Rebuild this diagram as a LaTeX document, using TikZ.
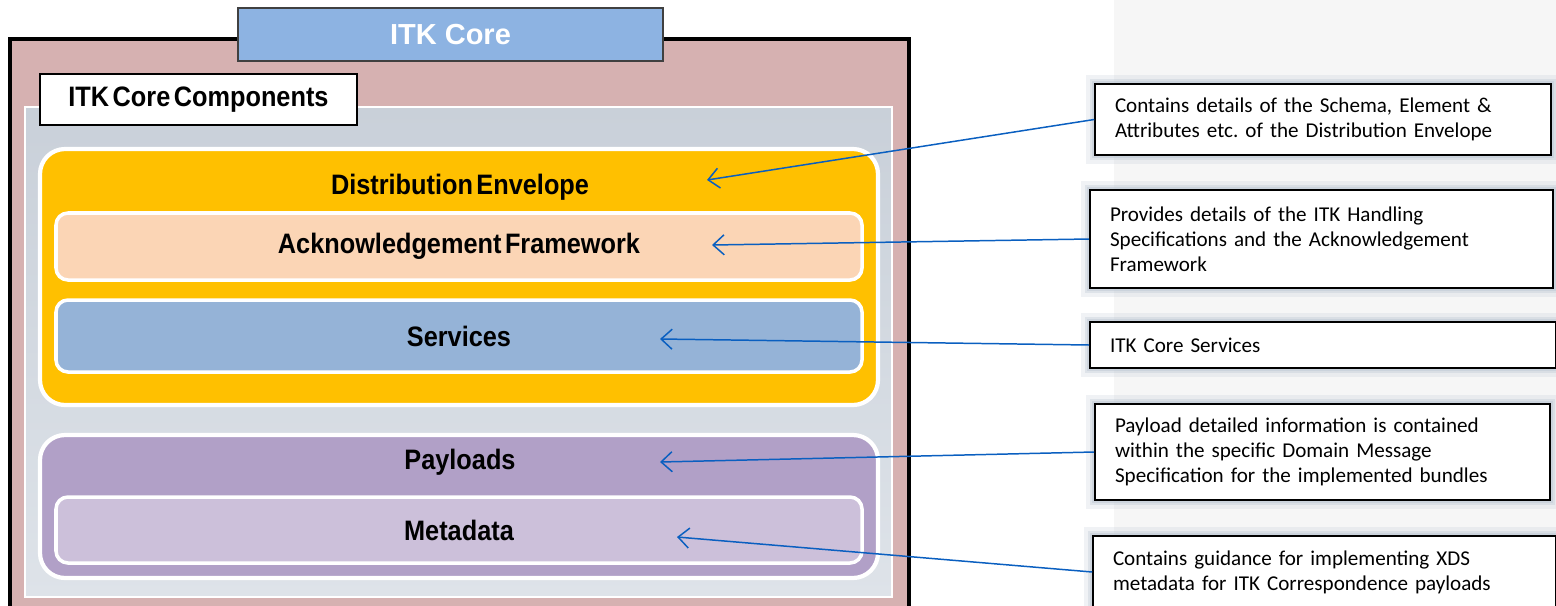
\documentclass[tikz,border=0pt]{standalone}
\usepackage{fontspec}
\setmainfont{Carlito}
\newfontfamily\labelfont{Liberation Sans}[FakeStretch=0.9,WordSpace=0.5]
\newfontfamily\tabfont{Liberation Sans}
\usetikzlibrary{arrows.meta,positioning}
\frenchspacing

\definecolor{corepink}{HTML}{D6B1B1}
\definecolor{tabblue}{HTML}{8DB3E2}
\definecolor{paneltop}{HTML}{C9D0D9}
\definecolor{panelbottom}{HTML}{DEE3E9}
\definecolor{envorange}{HTML}{FFC000}
\definecolor{ackpeach}{HTML}{FBD5B5}
\definecolor{servblue}{HTML}{95B3D7}
\definecolor{payviolet}{HTML}{B1A0C7}
\definecolor{metalilac}{HTML}{CCC0DA}
\definecolor{linkblue}{HTML}{0A5FC0}
\definecolor{glow}{HTML}{C3CCD7}
\definecolor{sidegray}{HTML}{F6F6F6}

\begin{document}
\begin{tikzpicture}
	[ x=0.2mm, y=-0.2mm,
		title/.style={font=\labelfont\bfseries\fontsize{16}{19}\selectfont,inner sep=0pt},
		group/.style={rectangle,rounded corners=5mm,draw=white,line width=2.4pt,minimum width=167.6mm},
		layer/.style={rectangle,rounded corners=2.4mm,draw=white,line width=2pt,minimum width=161.2mm,
			font=\labelfont\bfseries\fontsize{16}{19}\selectfont},
		note/.style={rectangle,draw=black,fill=white,line width=0.9pt,inner xsep=4mm,align=left,
			font=\fontsize{12}{14.3}\selectfont,
			preaction={draw=glow,line width=10pt,opacity=0.25},
			preaction={draw=glow,line width=6pt,opacity=0.4},
			preaction={draw=glow,line width=3pt,opacity=0.6}},
		pointer/.style={-{Straight Barb[length=2.2mm,width=4mm]},draw=linkblue,line width=0.85pt}]

	\useasboundingbox (0,0) rectangle (1556,605);
	\clip (0,0) rectangle (1556,605);
	\fill[sidegray] (1114,0) rectangle (1556,605);

	% ITK core frame
	\draw[fill=corepink,line width=1.8pt] (10,39) rectangle (909,640);
	\draw[top color=paneltop,bottom color=panelbottom,draw=white,line width=1.2pt] (25,107) rectangle (892,597);
	\node[rectangle,draw=black!75,fill=tabblue,line width=0.7pt,minimum width=85mm,minimum height=10.6mm,
		text=white,font=\tabfont\bfseries\fontsize{16.5}{19}\selectfont] (core tab) at (450.5,34.5) {ITK Core};
	\node[rectangle,draw=black,fill=white,line width=1pt,minimum width=63.4mm,minimum height=10.2mm,
		font=\labelfont\bfseries\fontsize{16}{19}\selectfont] (components) at (198.5,99.5) {ITK Core Components};

	% distribution envelope
	\node[group,fill=envorange,minimum height=51.2mm] (envelope) at (459,277) {};
	\node[title] (envelope title) at (460,187) {Distribution Envelope};
	\node[layer,fill=ackpeach,minimum height=13.4mm] (ack) at (459,246.5) {Acknowledgement Framework};
	\node[layer,fill=servblue,minimum height=14.4mm] (services) at (459,336) {Services};

	% payloads
	\node[group,fill=payviolet,minimum height=28.6mm] (payloads) at (459,506.5) {};
	\node[title] (payloads title) at (460,462) {Payloads};
	\node[layer,fill=metalilac,minimum height=13.2mm] (metadata) at (459,530) {Metadata};

	% notes
	\node[note,text width=83.2mm,minimum height=14.2mm] (schema note) at (1323,119.5)
		{Contains details of the Schema, Element \&\\Attributes etc. of the Distribution Envelope};
	\node[note,text width=84.6mm,minimum height=19.6mm] (handling note) at (1321.5,239)
		{Provides details of the ITK Handling\\Specifications and the Acknowledgement\\Framework};
	\node[note,text width=85.2mm,minimum height=9.2mm] (services note) at (1323,345)
		{ITK Core Services};
	\node[note,text width=83mm,minimum height=19.2mm] (payload note) at (1322.5,452)
		{Payload detailed information is contained\\within the specific Domain Message\\Specification for the implemented bundles};
	\node[note,text width=84.6mm,minimum height=14.4mm] (xds note) at (1324.5,572)
		{Contains guidance for implementing XDS\\metadata for ITK Correspondence payloads};

	\coordinate (envelope tip) at (707,180);
	\coordinate (ack tip) at (712,245);
	\coordinate (services tip) at (660,339);
	\coordinate (payloads tip) at (660,462);
	\coordinate (metadata tip) at (677,537);

	\draw[pointer] (schema note.west) -- (envelope tip);
	\draw[pointer] (handling note.west) -- (ack tip);
	\draw[pointer] (services note.west) -- (services tip);
	\draw[pointer] (payload note.west) -- (payloads tip);
	\draw[pointer] (xds note.west) -- (metadata tip);
\end{tikzpicture}
\end{document}
